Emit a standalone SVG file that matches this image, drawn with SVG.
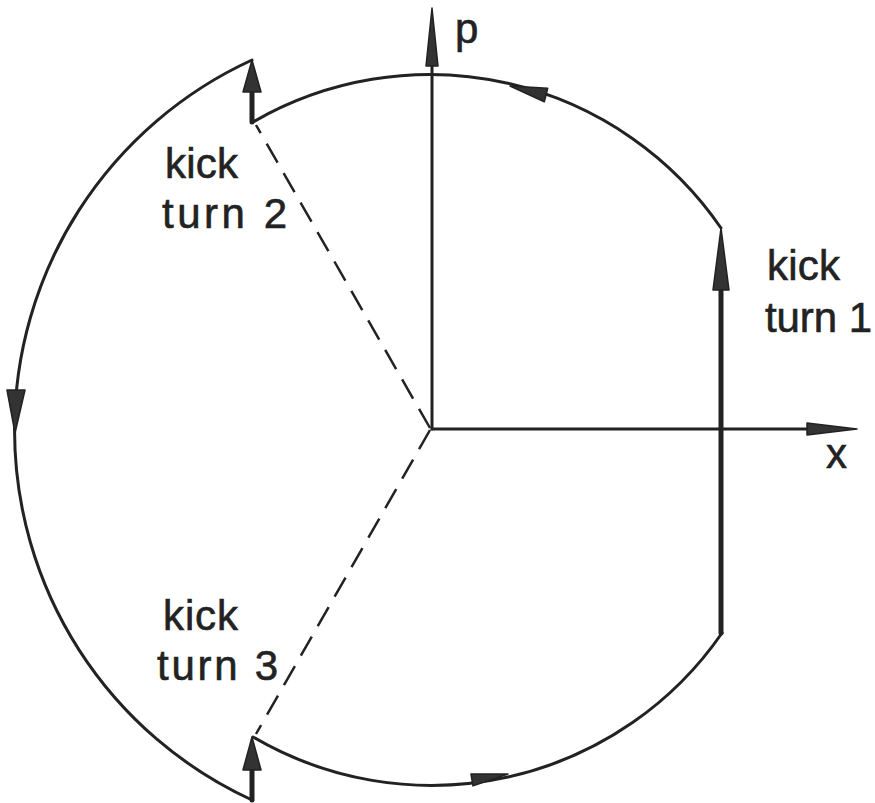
<svg xmlns="http://www.w3.org/2000/svg" width="875" height="803" viewBox="0 0 875 803">
<style>
.ln{fill:none;stroke:#222;stroke-width:3;stroke-linecap:round;stroke-linejoin:round}
.thick{fill:none;stroke:#222;stroke-width:5;stroke-linecap:round}
.dash{fill:none;stroke:#222;stroke-width:2.5;stroke-dasharray:22 12}
.ah{fill:#333;stroke:#222;stroke-width:1.5;stroke-linejoin:round}
.t{font-family:"Liberation Sans",Arial,sans-serif;font-size:42px;fill:#222;stroke:#222;stroke-width:0.6}
</style>
<rect width="875" height="803" fill="#fff"/>
<g id="axes">
  <line class="ln" x1="432" y1="429" x2="432" y2="30"/>
  <polygon class="ah" points="432,8 438,66 426,66"/>
  <line class="ln" x1="432" y1="429" x2="830" y2="429"/>
  <polygon class="ah" points="857,429 807,423 807,435"/>
  <text class="t" x="455" y="43">p</text>
  <text class="t" x="826" y="468">x</text>
</g>
<g id="connectors">
  <line class="dash" x1="430" y1="428" x2="256" y2="125"/>
  <line class="dash" x1="430" y1="430" x2="256" y2="734"/>
</g>
<g id="orbit">
  <path class="ln" d="M 253 122 A 353 353 0 0 1 721 228"/>
  <path class="ln" d="M 253 737 A 353 353 0 0 0 722 633"/>
  <path class="ln" d="M 252 60 A 407 407 0 0 0 252 800"/>
  <polygon class="ah" points="510,86 547.7,88.2 544.3,101.8"/>
  <polygon class="ah" points="508,774 473,785.9 471,774.1"/>
  <polygon class="ah" points="15,433 7,390 25,390"/>
</g>
<g id="kick1">
  <line class="thick" x1="721" y1="633" x2="721" y2="260"/>
  <polygon class="ah" points="721,228 729,290 713,290"/>
  <text class="t" x="767" y="280" textLength="73" lengthAdjust="spacing">kick</text>
  <text class="t" x="765" y="332" textLength="107" lengthAdjust="spacing">turn 1</text>
</g>
<g id="kick2">
  <line class="thick" x1="252" y1="122" x2="252" y2="80"/>
  <polygon class="ah" points="252,60 261,92 243,92"/>
  <text class="t" x="165" y="178" textLength="73" lengthAdjust="spacing">kick</text>
  <text class="t" x="162" y="228" textLength="125" lengthAdjust="spacing">turn 2</text>
</g>
<g id="kick3">
  <line class="thick" x1="252" y1="800" x2="252" y2="760"/>
  <polygon class="ah" points="252,737 261,770 243,770"/>
  <text class="t" x="163" y="630" textLength="75" lengthAdjust="spacing">kick</text>
  <text class="t" x="157" y="680" textLength="121" lengthAdjust="spacing">turn 3</text>
</g>
</svg>
